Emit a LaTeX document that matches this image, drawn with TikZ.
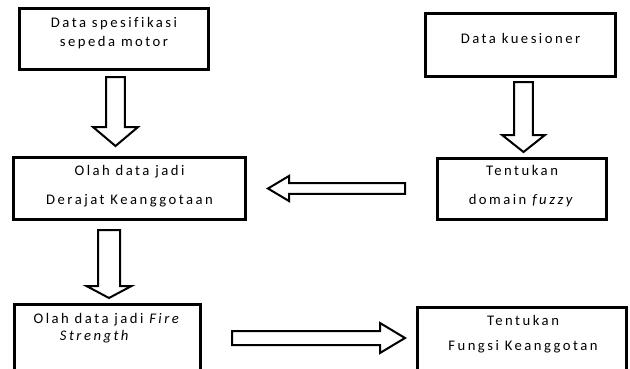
\documentclass[tikz,border=0pt]{standalone}
\usepackage{fontspec}
\usepackage{tikz}
\usetikzlibrary{calc}

\newfontfamily\boxfont[LetterSpace=17, Ligatures=NoCommon]{Carlito}

\tikzset{
    box/.style={draw=black, line width=2.25pt, rectangle, inner sep=0pt, outer sep=0pt},
    boxtext/.style={font=\boxfont\fontsize{11}{13.5}\selectfont, align=center, inner sep=0pt},
    arrowbody/.style={draw=black, fill=white, line width=1.5pt, line join=miter}
}

% block arrow: start, tip, shaft half width, head half width, head length
\newcommand{\blockarrow}[5]{%
    \coordinate (ba-base) at ($(#2)!#5!(#1)$);
    \draw[arrowbody] ($(#1)!#3!90:(#2)$) -- ($(ba-base)!#3!90:(#2)$) -- ($(ba-base)!#4!90:(#2)$) -- (#2)
        -- ($(ba-base)!#4!-90:(#2)$) -- ($(ba-base)!#3!-90:(#2)$) -- ($(#1)!#3!-90:(#2)$) -- cycle;}

\begin{document}
\begin{tikzpicture}[x=0.75pt, y=-0.75pt]

        \useasboundingbox (0,0) rectangle (630,368);
        \clip (0,0) rectangle (630,368);

        % boxes
        \node[box, minimum width=141.75pt, minimum height=45.75pt] (spek) at (114,39) {};
        \node[box, minimum width=142.5pt, minimum height=47.25pt] (kuesioner) at (520.5,45) {};
        \node[box, minimum width=174pt, minimum height=46.5pt] (derajat) at (129.5,188.5) {};
        \node[box, minimum width=126.75pt, minimum height=45.75pt] (domain) at (522,189) {};
        \node[box, minimum width=139.5pt, minimum height=63.75pt] (fire) at (107.5,347) {};
        \node[box, minimum width=156.75pt, minimum height=63.75pt] (fungsi) at (522,350) {};

        % texts
        \node[boxtext] (spek-t) at ($(spek.north)+(0,25)$) {Data spesifikasi\\[0.75pt]sepeda motor};
        \node[boxtext] (kuesioner-t) at ($(kuesioner.north)+(0,24.5)$) {Data kuesioner};
        \node[boxtext] (derajat-t) at ($(derajat.north)+(0,29)$) {Olah data jadi\\[8.25pt]Derajat Keanggotaan};
        \node[boxtext] (domain-t) at ($(domain.north)+(0,28)$) {Tentukan\\[8.25pt]domain \textit{fuzzy}};
        \node[boxtext] (fire-t) at ($(fire.north)+(0,24)$) {Olah data jadi \textit{Fire}\\[-0.75pt]\textit{Strength}\hspace*{18pt}};
        \node[boxtext] (fungsi-t) at ($(fungsi.north)+(1,27)$) {Tentukan\\[5.25pt]Fungsi Keanggotan};

        % arrow ends
        \coordinate (a1s) at (115.5,77);
        \coordinate (a1t) at (115.5,146);
        \coordinate (a2s) at (523.5,82);
        \coordinate (a2t) at (523.5,152);
        \coordinate (a3s) at (405,188.5);
        \coordinate (a3t) at (268,188.5);
        \coordinate (a4s) at (109,230);
        \coordinate (a4t) at (109,298);
        \coordinate (a5s) at (232,338);
        \coordinate (a5t) at (405,338);

        % arrows
        \blockarrow{a1s}{a1t}{7.1pt}{16.9pt}{14.25pt}
        \blockarrow{a2s}{a2t}{7.1pt}{16.1pt}{12.75pt}
        \blockarrow{a3s}{a3t}{4.1pt}{9.4pt}{15.75pt}
        \blockarrow{a4s}{a4t}{8.25pt}{16.9pt}{9pt}
        \blockarrow{a5s}{a5t}{5.25pt}{11.25pt}{18.75pt}

    \end{tikzpicture}
\end{document}
